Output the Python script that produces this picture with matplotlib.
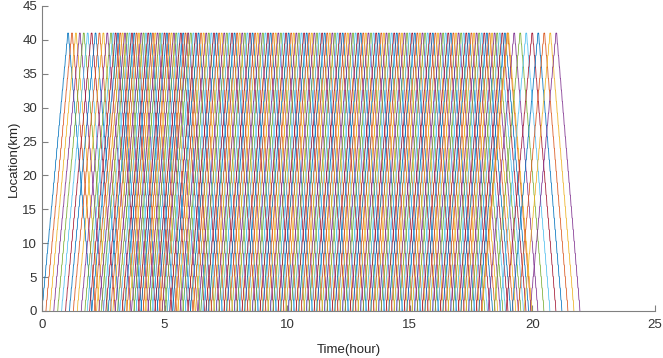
import numpy as np
import matplotlib.pyplot as plt

plt.rcParams['font.family'] = ['Liberation Sans', 'DejaVu Sans']

# station positions along the line (km)
station_km = [0.0, 1.6, 3.4, 5.1, 6.8, 8.5, 10.3, 12.0, 13.7, 15.4, 17.1, 18.9,
              20.6, 22.3, 24.0, 25.7, 27.4, 29.2, 30.9, 32.6, 34.3, 36.0, 37.7,
              39.4, 41.0]

# up departures from km 0, by service period (hours)
period_start = [0.0, 1.75, 4.9, 17.95]
period_end = [1.75, 4.9, 17.95, 19.95]
period_headway = [0.16, 0.095, 0.105, 0.245]

run_up = 1.05      # hours from 0 to 41 km
run_down = 0.95    # hours from 41 to 0 km
turnaround = 0.03  # hours at the far terminal
dwell = 0.5 / 60   # hours at each intermediate station

# matlab default colour order
colors = ['#0072BD', '#D95319', '#EDB120', '#7E2F8E', '#77AC30', '#4DBEEE', '#A2142F']


def trip(t0, stations, total):
    d = np.diff(stations)
    n = len(d)
    run = (total - dwell * (n - 1)) * np.abs(d) / np.abs(d).sum()
    tau = np.linspace(0, 1, 10)
    ts, ss = [], []
    t = t0
    for k in range(n):
        ts.extend(t + run[k] * tau)
        ss.extend(stations[k] + d[k] * (1 - np.cos(np.pi * tau)) / 2)
        t += run[k]
        if k < n - 1:
            t += dwell
    return ts, ss, t


departures = []
for a, b, h in zip(period_start, period_end, period_headway):
    departures.extend(np.arange(a, b - 1e-9, h))

fig = plt.figure(figsize=(6.63, 3.58), dpi=100)
ax = fig.add_axes([0.0633, 0.1313, 0.9246, 0.852])

up_st = np.array(station_km)
down_st = up_st[::-1]
for i, u in enumerate(departures):
    t1, s1, te = trip(u, up_st, run_up)
    t2, s2, _ = trip(te + turnaround, down_st, run_down)
    ax.plot(t1 + t2, s1 + s2, color=colors[i % len(colors)], lw=0.55)

ax.set_xlim(0, 25)
ax.set_ylim(0, 45)
ax.set_xticks(range(0, 26, 5))
ax.set_yticks(range(0, 46, 5))
for side in ['top', 'right']:
    ax.spines[side].set_visible(False)
for side in ['left', 'bottom']:
    ax.spines[side].set_color('#808080')
    ax.spines[side].set_linewidth(0.8)
ax.tick_params(direction='in', length=4, width=0.8, color='#808080',
               labelcolor='#333333', labelsize=9.5)
ax.tick_params(axis='x', pad=6)
ax.set_xlabel('Time(hour)', fontsize=9.5, color='#262626', labelpad=9)
ax.set_ylabel('Location(km)', fontsize=9.5, color='#262626', labelpad=2)

plt.savefig('out.png', dpi=100)
